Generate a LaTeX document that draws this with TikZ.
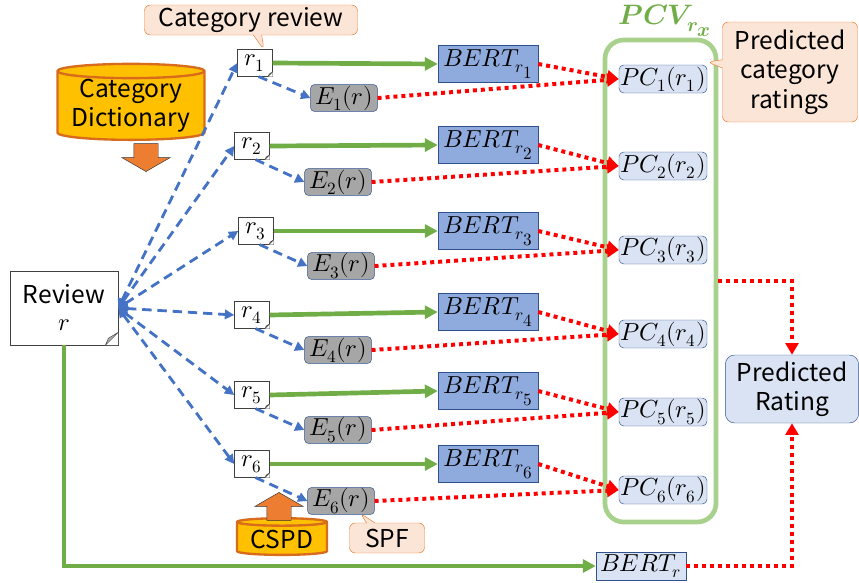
\documentclass[tikz,border=0pt]{standalone}
\usepackage{amsmath}
\usepackage{fontspec}
\usepackage{unicode-math}
\setmainfont{Noto Sans CJK JP}
\setmathfont{Latin Modern Math}
\usetikzlibrary{arrows.meta, shapes.geometric, shapes.arrows, shapes.callouts}

\definecolor{bertblue}{HTML}{8FAADC}
\definecolor{lineblue}{HTML}{4472C4}
\definecolor{edgeblue}{HTML}{2F528F}
\definecolor{paleblue}{HTML}{DAE3F3}
\definecolor{grassgreen}{HTML}{70AD47}
\definecolor{palegreen}{HTML}{A9D18E}
\definecolor{gold}{HTML}{FFC000}
\definecolor{rust}{HTML}{D86B1C}
\definecolor{tangerine}{HTML}{ED7D31}
\definecolor{peach}{HTML}{FBE5D6}

\newcommand{\sub}[1]{_{\scriptstyle #1}}

\begin{document}
\begin{tikzpicture}[
            x = 0.03cm, y = -0.03cm, % one unit = one pixel of the sketch
            font = \fontsize{21}{25}\selectfont,
            doc/.style = {draw = black!75, fill = white, inner sep = 0pt,
                minimum width = 1.05cm, minimum height = 0.8cm},
            embed/.style = {draw = edgeblue, fill = black!35, rounded corners = 3pt,
                inner sep = 0pt, minimum width = 2.0cm, minimum height = 0.8cm},
            bert/.style = {draw = edgeblue, fill = bertblue, inner sep = 0pt,
                minimum width = 3.0cm, minimum height = 1.1cm},
            pcbox/.style = {draw = edgeblue, fill = paleblue, rounded corners = 4pt,
                inner sep = 0pt, minimum width = 2.64cm, minimum height = 0.84cm},
            store/.style = {cylinder, shape border rotate = 90, aspect = 0.12,
                draw = rust, line width = 2pt, fill = gold, inner sep = 0pt,
                align = center},
            push/.style = {single arrow, draw = black!80, fill = tangerine,
                inner xsep = 0.36cm, inner ysep = 0pt,
                single arrow head extend = 0.36cm, single arrow tip angle = 120,
                minimum height = 0.84cm},
            note/.style = {rectangle callout, draw = tangerine, fill = peach,
                rounded corners = 5pt, align = center, inner sep = 0pt},
            blueline/.style = {draw = lineblue, line width = 2.4pt,
                dash pattern = on 8pt off 5pt, > = {Triangle[length = 8pt, width = 8pt]}},
            greenline/.style = {draw = grassgreen, line width = 4pt,
                > = {Triangle[length = 11pt, width = 11pt]}},
            redline/.style = {draw = red, line width = 3.4pt,
                dash pattern = on 3.4pt off 3.4pt, > = {Triangle[length = 10pt, width = 11pt]}}
        ]
        \useasboundingbox (0,0) rectangle (859,583);

        % review and its category parts
        \node[doc, minimum width = 3.24cm, minimum height = 2.22cm, align = center]
            (rev) at (64,308) {Review\\[-2pt]$r$};
        \node[doc] (r1) at (255,63) {$r\sub{1}$};
        \node[doc] (r2) at (252,146) {$r\sub{2}$};
        \node[doc] (r3) at (256,231) {$r\sub{3}$};
        \node[doc] (r4) at (252,315) {$r\sub{4}$};
        \node[doc] (r5) at (252,395) {$r\sub{5}$};
        \node[doc] (r6) at (252,464) {$r\sub{6}$};

        % folded corners
        \foreach \n/\f in {rev/11pt, r1/4pt, r2/4pt, r3/4pt, r4/4pt, r5/4pt, r6/4pt} {
            \fill[white] ([xshift=-\f]\n.south east) -- (\n.south east)
                -- ([yshift=\f]\n.south east) -- cycle;
            \filldraw[draw = black!75, fill = black!30, line join = round]
                ([xshift=-\f]\n.south east) -- ([yshift=\f]\n.south east)
                -- ([xshift=-0.75*\f, yshift=0.55*\f]\n.south east) -- cycle;
        }

        \node[embed] (e1) at (344,98) {$E\sub{1}(r)$};
        \node[embed] (e2) at (338,182) {$E\sub{2}(r)$};
        \node[embed] (e3) at (341,266) {$E\sub{3}(r)$};
        \node[embed] (e4) at (338,350) {$E\sub{4}(r)$};
        \node[embed] (e5) at (338,430) {$E\sub{5}(r)$};
        \node[embed] (e6) at (341,501) {$E\sub{6}(r)$};

        \node[bert] (bert1) at (488,64) {$BERT\sub{r\sub{1}}$};
        \node[bert] (bert2) at (488,145) {$BERT\sub{r\sub{2}}$};
        \node[bert] (bert3) at (488,231) {$BERT\sub{r\sub{3}}$};
        \node[bert] (bert4) at (488,312) {$BERT\sub{r\sub{4}}$};
        \node[bert] (bert5) at (488,391) {$BERT\sub{r\sub{5}}$};
        \node[bert] (bert6) at (488,464) {$BERT\sub{r\sub{6}}$};

        % the vector of category predictions
        \node[draw = palegreen, line width = 4pt, rounded corners = 16pt,
            minimum width = 3.33cm, minimum height = 14.46cm] (pcv) at (660.5,281) {};
        \node[text = grassgreen, font = \fontsize{24}{28}\selectfont] (pcvlabel) at (665,21)
            {$\symbfit{PCV}\sub{\symbfit{r}\sub{\symbfit{x}}}$};

        \node[pcbox] (pc1) at (663,79) {$PC\sub{1}(r\sub{1})$};
        \node[pcbox] (pc2) at (663,166) {$PC\sub{2}(r\sub{2})$};
        \node[pcbox] (pc3) at (663,250) {$PC\sub{3}(r\sub{3})$};
        \node[pcbox] (pc4) at (663,334) {$PC\sub{4}(r\sub{4})$};
        \node[pcbox] (pc5) at (663,412) {$PC\sub{5}(r\sub{5})$};
        \node[pcbox] (pc6) at (663,490) {$PC\sub{6}(r\sub{6})$};

        \node[pcbox, rounded corners = 8pt, align = center, minimum width = 4.0cm,
            minimum height = 2.04cm] (pr) at (792,389) {Predicted\\Rating};
        \node[draw = edgeblue, fill = paleblue, inner sep = 0pt, minimum width = 2.7cm,
            minimum height = 0.84cm] (bertr) at (641,566) {$BERT\sub{r}$};

        % dictionaries
        \node[store, minimum width = 4.41cm, minimum height = 1.89cm]
            (dict) at (131,106) {Category\\Dictionary};
        \node[push, shape border rotate = 270] (dictarrow) at (146,154) {};
        \node[store, minimum width = 2.7cm, minimum height = 1.1cm] (cspd) at (282,539) {CSPD};
        \node[push, shape border rotate = 90] (cspdarrow) at (279,510) {};

        % callouts
        \node[note, minimum width = 6.39cm, minimum height = 0.9cm,
            callout absolute pointer = {(264,50)}] (catnote) at (251,20) {Category review};
        \node[note, minimum width = 4.05cm, minimum height = 3.0cm,
            callout absolute pointer = {(707,62)}] (pcnote) at (790,72)
            {Predicted\\category\\ratings};
        \node[note, minimum width = 2.25cm, minimum height = 0.9cm,
            callout absolute pointer = {(360,513)}] (spfnote) at (387,538) {SPF};

        % connectors
        \foreach \i in {1,...,6} {
            \draw[blueline, <->] (rev.east) -- (r\i.west);
            \draw[blueline, ->] ([xshift=3pt]r\i.south) -- (e\i.west);
            \draw[greenline, ->] (r\i.east) -- (bert\i.west);
            \draw[redline, ->] (bert\i.east) -- (pc\i.west);
            \draw[redline, ->] (e\i.east) -- (pc\i.west);
        }
        \draw[greenline, ->] (rev.south) |- (bertr.west);
        \draw[redline, ->] (bertr.east) -| (pr.south);
        \draw[redline, ->] (pcv.east) -| (pr.north);
    \end{tikzpicture}
\end{document}
